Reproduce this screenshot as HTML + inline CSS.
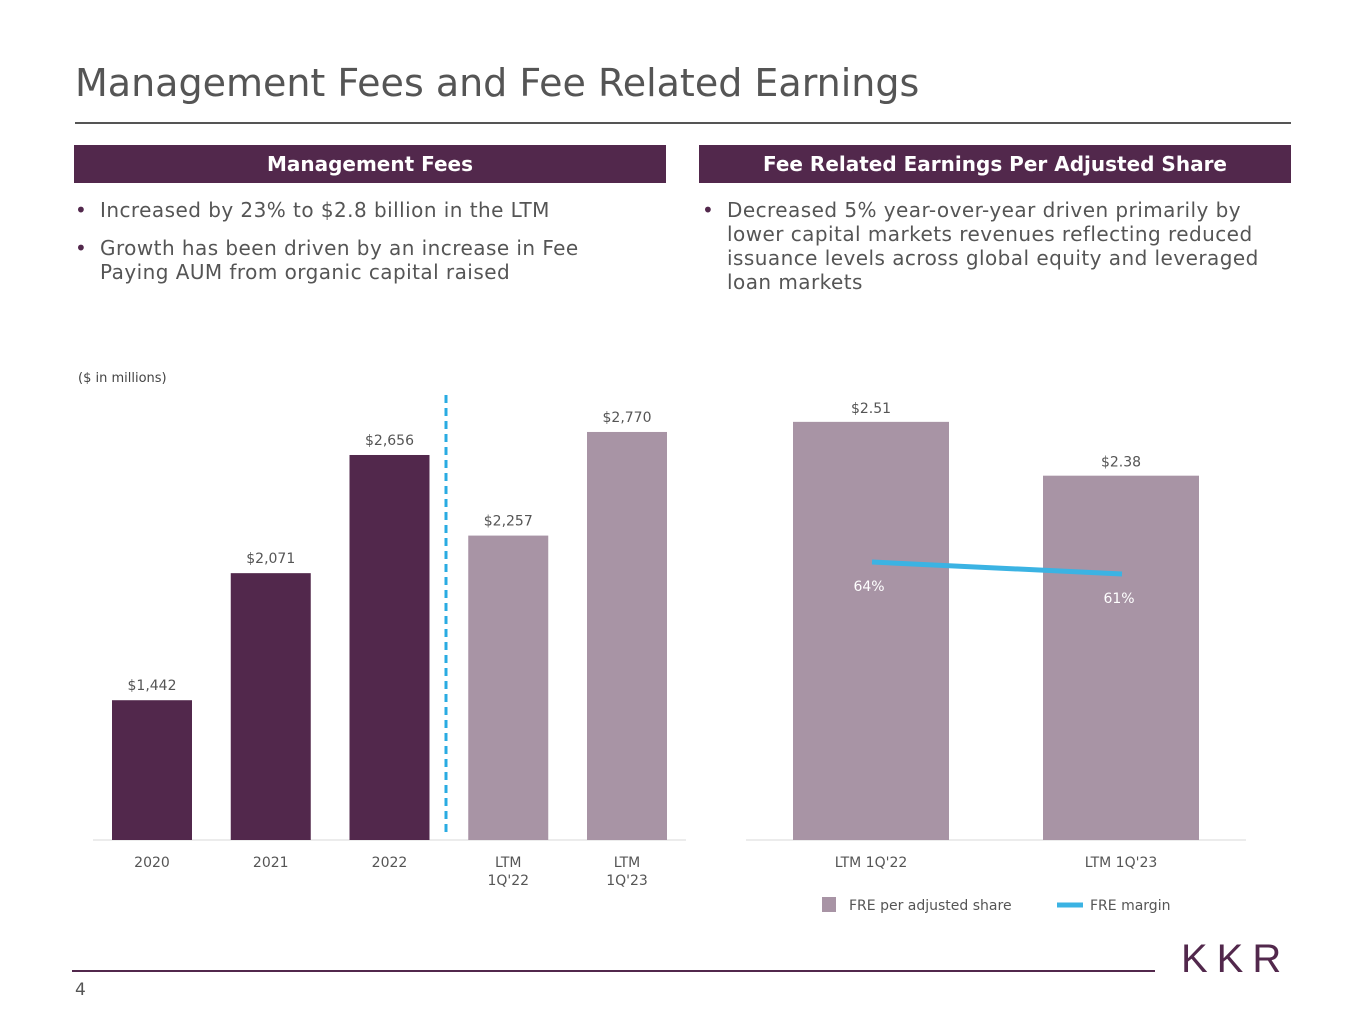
<!DOCTYPE html>
<html><head><meta charset="utf-8"><style>
body{margin:0;width:1365px;height:1024px;background:#fff;position:relative;overflow:hidden;font-family:"DejaVu Sans","Liberation Sans",sans-serif;color:#555}
.abs{position:absolute}
.hdr{position:absolute;top:145px;height:38px;background:#52284c;color:#fff;font-weight:bold;font-size:20px;line-height:38px;text-align:center}
ul{position:absolute;margin:0;padding:0;list-style:none;font-size:20px;line-height:24px;color:#555;letter-spacing:0.45px}
li{position:relative;padding-left:25px;margin-bottom:14px}
li:before{content:"•";position:absolute;left:0;color:#52284c}
</style></head><body>
<div class="abs" style="left:75px;top:61px;font-size:38px;letter-spacing:0px;color:#555">Management Fees and Fee Related Earnings</div>
<div class="abs" style="left:75px;top:122px;width:1216px;height:2px;background:#555"></div>
<div class="hdr" style="left:74px;width:592px">Management Fees</div>
<div class="hdr" style="left:699px;width:592px">Fee Related Earnings Per Adjusted Share</div>
<ul style="left:75px;top:198px;width:540px">
<li>Increased by 23% to $2.8 billion in the LTM</li>
<li>Growth has been driven by an increase in Fee Paying AUM from organic capital raised</li></ul>
<ul style="left:702px;top:198px;width:575px">
<li>Decreased 5% year-over-year driven primarily by lower capital markets revenues reflecting reduced issuance levels across global equity and leveraged loan markets</li></ul>
<div class="abs" style="left:78px;top:371px;font-size:13px;color:#444">($ in millions)</div>
<svg class="abs" style="left:0;top:0" width="1365" height="1024" font-family="DejaVu Sans, Liberation Sans, sans-serif" font-size="14" fill="#555">
<g id="left"></g><g id="right"></g>
</svg>
<div class="abs" style="left:72px;top:970px;width:1083px;height:2px;background:#52284c"></div>
<div class="abs" style="left:75px;top:980px;font-size:17px;color:#555">4</div>
<div class="abs" style="left:1181px;top:937px;font-size:40px;letter-spacing:9px;color:#52284c;font-family:'Liberation Sans',sans-serif">KKR</div>
<script>
const mfCategories=["2020","2021","2022","LTM\n1Q'22","LTM\n1Q'23"];
const mfValues=[1442,2071,2656,2257,2770];
const mfLabels=["$1,442","$2,071","$2,656","$2,257","$2,770"];
const freCategories=["LTM 1Q'22","LTM 1Q'23"];
const freValues=[2.51,2.38];
const freLabels=["$2.51","$2.38"];
const marginValues=[64,61];
const marginLabels=["64%","61%"];
const NS="http://www.w3.org/2000/svg";
function mk(t,a,p){const e=document.createElementNS(NS,t);for(const k in a)e.setAttribute(k,a[k]);p.appendChild(e);return e;}
const base=840;
const L=document.getElementById('left');
const lx=i=>152+i*118.75, ly=v=>base-(v-750)*0.202;
mk('line',{x1:93,x2:686,y1:base,y2:base,stroke:'#d9d9d9','stroke-width':1},L);
mfValues.forEach((v,i)=>{
 const r=mk('rect',{x:lx(i)-40,y:ly(v),width:80,height:base-ly(v),fill:i<3?'#52284c':'#a894a5'},L);
 
 
 const t=mk('text',{x:lx(i),y:ly(v)-10,'text-anchor':'middle'},L);t.textContent=mfLabels[i];
 
 
 mfCategories[i].split('\n').forEach((s,j)=>{const c=mk('text',{x:lx(i),y:867+j*18,'text-anchor':'middle'},L);c.textContent=s;
 
 });
});
const dl=mk('line',{x1:446,x2:446,y1:395,y2:835,stroke:'#29abe2','stroke-width':3,'stroke-dasharray':'8,5'},L);


const R=document.getElementById('right');
const rx=i=>871+i*250, ry=v=>base-(v-1.5)*414, my=v=>562+(64-v)*4;
mk('line',{x1:746,x2:1246,y1:base,y2:base,stroke:'#d9d9d9','stroke-width':1},R);
freValues.forEach((v,i)=>{
 const r=mk('rect',{x:rx(i)-78,y:ry(v),width:156,height:base-ry(v),fill:'#a894a5'},R);
 
 
 const t=mk('text',{x:rx(i),y:ry(v)-9,'text-anchor':'middle'},R);t.textContent=freLabels[i];
 
 
 const c=mk('text',{x:rx(i),y:867,'text-anchor':'middle'},R);c.textContent=freCategories[i];
 
 
});
const pl=mk('polyline',{points:marginValues.map((v,i)=>(rx(i)+1)+','+my(v)).join(' '),fill:'none',stroke:'#3bb3e3','stroke-width':5},R);


marginValues.forEach((v,i)=>{const t=mk('text',{x:rx(i)-2,y:my(v)+29,'text-anchor':'middle',fill:'#fff'},R);t.textContent=marginLabels[i];
 
 });
const g=mk('g',{},R);


mk('rect',{x:822,y:897,width:14,height:15,fill:'#a894a5'},g);
mk('text',{x:849,y:910},g).textContent='FRE per adjusted share';
mk('line',{x1:1057,x2:1083,y1:905,y2:905,stroke:'#3bb3e3','stroke-width':5},g);
mk('text',{x:1090,y:910},g).textContent='FRE margin';
</script>
</body></html>
